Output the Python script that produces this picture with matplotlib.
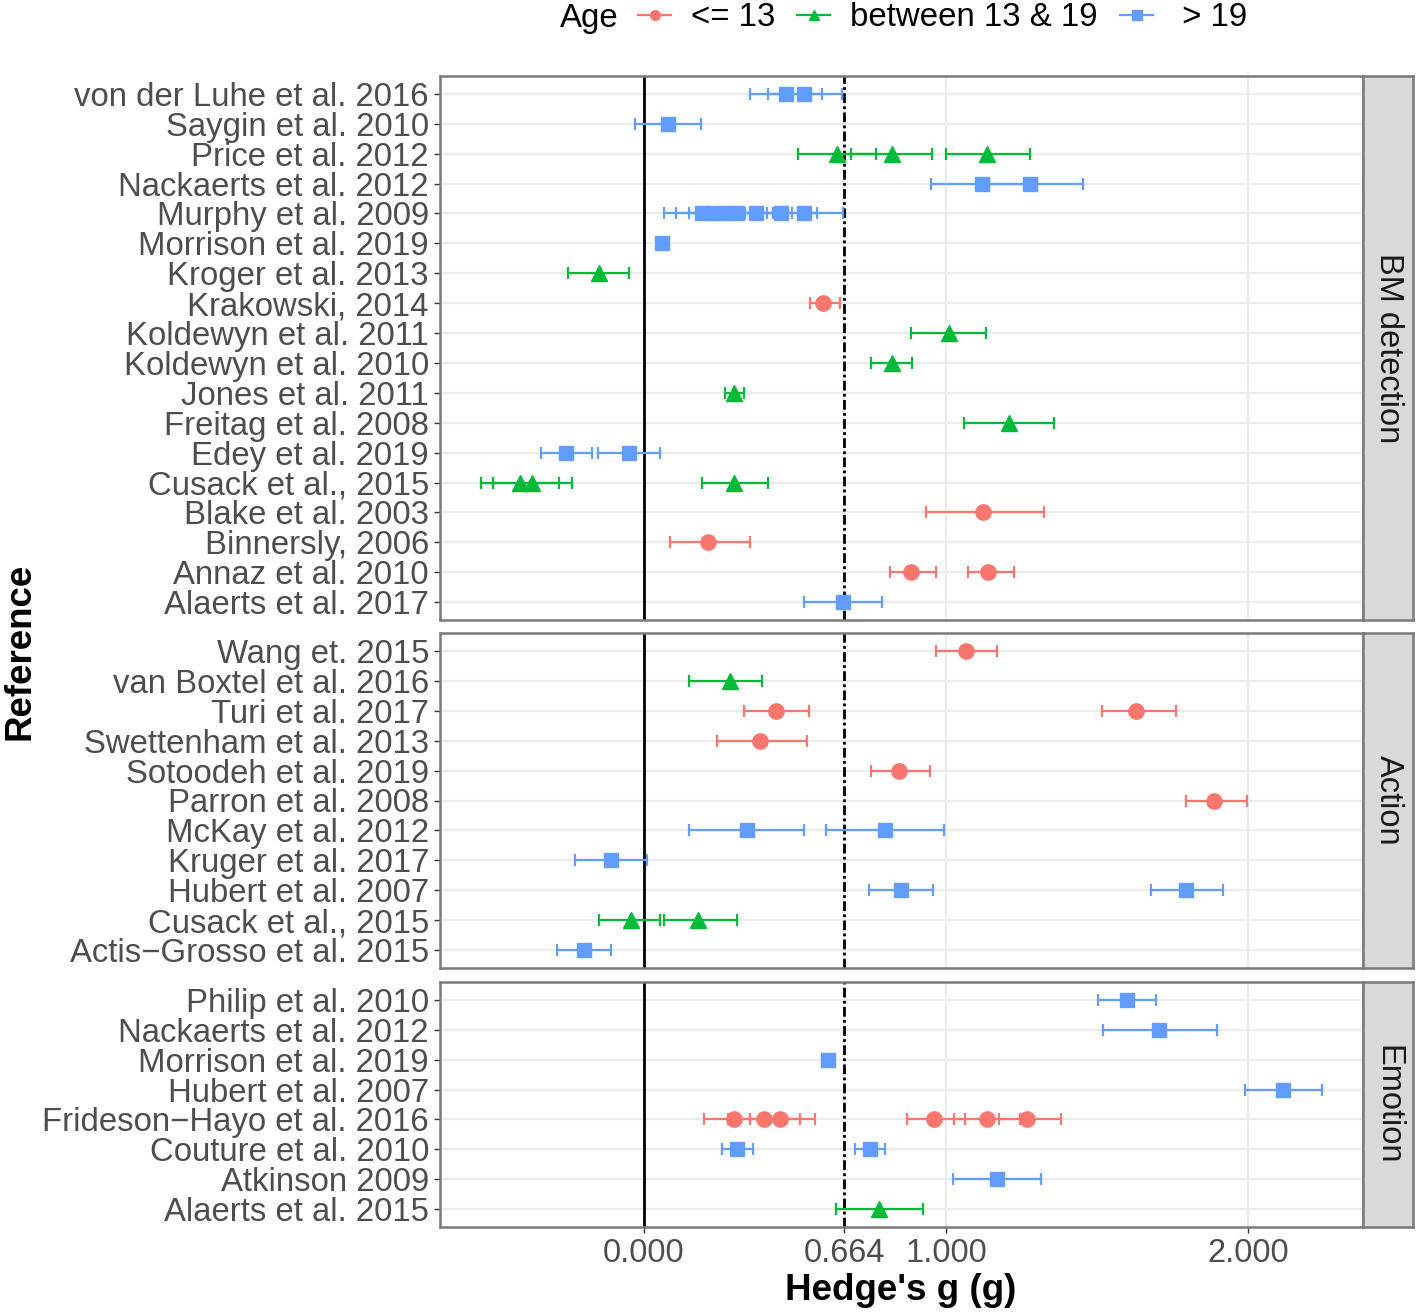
import numpy as np
import matplotlib
matplotlib.use("Agg")
import matplotlib.pyplot as plt
from matplotlib.lines import Line2D

plt.rcParams['font.family'] = ['Liberation Sans', 'DejaVu Sans']

# ---- data -------------------------------------------------------------
age_labels = ["<= 13", "between 13 & 19", " > 19"]
age_colors = ["#F8766D", "#00BA38", "#619CFF"]
age_markers = ["o", "^", "s"]
age_msize = [11, 12, 10]

x_breaks = [0.0, 0.664, 1.0, 2.0]
x_break_labels = ["0.000", "0.664", "1.000", "2.000"]

# BM detection
bm_rows = ["von der Luhe et al. 2016", "Saygin et al. 2010", "Price et al. 2012",
           "Nackaerts et al. 2012", "Murphy et al. 2009", "Morrison et al. 2019",
           "Kroger et al. 2013", "Krakowski, 2014", "Koldewyn et al. 2011",
           "Koldewyn et al. 2010", "Jones et al. 2011", "Freitag et al. 2008",
           "Edey et al. 2019", "Cusack et al., 2015", "Blake et al. 2003",
           "Binnersly, 2006", "Annaz et al. 2010", "Alaerts et al. 2017"]
bm_ref = [0, 0, 1, 2, 2, 2, 3, 3, 4, 4, 4, 4, 4, 4, 4, 5, 6, 7, 8, 9, 10, 11,
          12, 12, 13, 13, 13, 14, 15, 16, 16, 17]
bm_g = [0.470, 0.531, 0.081, 0.638, 0.820, 1.137, 1.118, 1.279,
        0.191, 0.230, 0.268, 0.307, 0.371, 0.454, 0.530, 0.061,
        -0.149, 0.592, 1.010, 0.820, 0.297, 1.209, -0.259, -0.050,
        -0.411, -0.369, 0.297, 1.124, 0.211, 0.883, 1.140, 0.660]
bm_lo = [0.351, 0.412, -0.028, 0.509, 0.685, 1.000, 0.950, 1.110,
         0.066, 0.108, 0.150, 0.187, 0.250, 0.336, 0.408, 0.050,
         -0.251, 0.550, 0.884, 0.752, 0.270, 1.061, -0.341, -0.152,
         -0.538, -0.499, 0.191, 0.933, 0.088, 0.815, 1.072, 0.531]
bm_hi = [0.590, 0.655, 0.189, 0.768, 0.954, 1.279, 1.286, 1.453,
         0.316, 0.352, 0.386, 0.427, 0.492, 0.572, 0.658, 0.072,
         -0.049, 0.649, 1.134, 0.889, 0.331, 1.359, -0.173, 0.055,
         -0.280, -0.238, 0.412, 1.325, 0.353, 0.966, 1.225, 0.790]
bm_age = [2, 2, 2, 1, 1, 1, 2, 2, 2, 2, 2, 2, 2, 2, 2, 2,
          1, 0, 1, 1, 1, 1, 2, 2, 1, 1, 1, 0, 0, 0, 0, 2]

# Action
act_rows = ["Wang et. 2015", "van Boxtel et al. 2016", "Turi et al. 2017",
            "Swettenham et al. 2013", "Sotoodeh et al. 2019", "Parron et al. 2008",
            "McKay et al. 2012", "Kruger et al. 2017", "Hubert et al. 2007",
            "Cusack et al., 2015", "Actis\u2212Grosso et al. 2015"]
act_ref = [0, 1, 2, 2, 3, 4, 5, 6, 6, 7, 8, 8, 9, 9, 10]
act_g = [1.065, 0.284, 0.436, 1.628, 0.384, 0.846, 1.888, 0.340, 0.800,
         -0.109, 0.850, 1.796, -0.041, 0.180, -0.199]
act_lo = [0.968, 0.150, 0.332, 1.518, 0.241, 0.751, 1.796, 0.150, 0.603,
          -0.228, 0.745, 1.678, -0.148, 0.066, -0.287]
act_hi = [1.169, 0.390, 0.547, 1.761, 0.539, 0.948, 1.997, 0.531, 0.995,
          0.011, 0.956, 1.918, 0.053, 0.310, -0.110]
act_age = [0, 1, 0, 0, 0, 0, 0, 2, 2, 2, 2, 2, 1, 1, 2]

# Emotion
emo_rows = ["Philip et al. 2010", "Nackaerts et al. 2012", "Morrison et al. 2019",
            "Hubert et al. 2007", "Frideson\u2212Hayo et al. 2016", "Couture et al. 2010",
            "Atkinson 2009", "Alaerts et al. 2015"]
emo_ref = [0, 1, 2, 3, 4, 4, 4, 4, 4, 4, 5, 5, 6, 7]
emo_g = [1.599, 1.707, 0.608, 2.116, 0.299, 0.397, 0.450, 0.960, 1.136, 1.268,
         0.310, 0.750, 1.169, 0.779]
emo_lo = [1.503, 1.521, 0.595, 1.989, 0.199, 0.280, 0.353, 0.871, 1.028, 1.177,
          0.259, 0.699, 1.024, 0.636]
emo_hi = [1.696, 1.897, 0.621, 2.245, 0.400, 0.517, 0.568, 1.063, 1.245, 1.382,
          0.362, 0.800, 1.315, 0.923]
emo_age = [2, 2, 2, 2, 0, 0, 0, 0, 0, 0, 2, 2, 2, 1]

# ---- figure -----------------------------------------------------------
W, H = 1418, 1314
fig = plt.figure(figsize=(W / 100, H / 100), dpi=100)


def box(x0, y0, x1, y1):
    # pixel box, y measured from top
    return [x0 / W, 1 - y1 / H, (x1 - x0) / W, (y1 - y0) / H]


panels = [
    ("BM detection", bm_rows, bm_ref, bm_g, bm_lo, bm_hi, bm_age, 76, 620),
    ("Action", act_rows, act_ref, act_g, act_lo, act_hi, act_age, 633, 968),
    ("Emotion", emo_rows, emo_ref, emo_g, emo_lo, emo_hi, emo_age, 982, 1227),
]

border = "#7a7a7a"
for k, (name, rows, ref, g, lo, hi, age, top, bot) in enumerate(panels):
    ax = fig.add_axes(box(440, top, 1363, bot))
    n = len(rows)
    ax.set_xlim(-0.675, 2.381)
    ax.set_ylim(n - 1 + 0.6, -0.6)
    ax.set_yticks(range(n))
    ax.set_yticklabels(rows, fontsize=23.7, color="#4D4D4D")
    ax.set_xticks(x_breaks)
    ax.set_axisbelow(True)
    ax.grid(True, color="#EBEBEB", lw=1.6)
    ax.tick_params(axis="y", length=4, width=1, color="#333333", pad=4)
    if k == len(panels) - 1:
        ax.set_xticklabels(x_break_labels, fontsize=23.5, color="#4D4D4D")
        ax.tick_params(axis="x", length=4, width=1, color="#333333", pad=4)
    else:
        ax.tick_params(axis="x", length=0, labelbottom=False)
    for s in ax.spines.values():
        s.set_color(border)
        s.set_linewidth(1.8)

    ax.axvline(0, color="black", lw=2, zorder=1.5)
    ax.axvline(0.664, color="black", lw=2, ls=(0, (3.5, 1.2, 1, 1.2)), zorder=1.5)

    g = np.array(g); lo = np.array(lo); hi = np.array(hi)
    ref = np.array(ref); age = np.array(age)
    for a in range(3):
        m = age == a
        if not m.any():
            continue
        ax.errorbar(g[m], ref[m], xerr=[g[m] - lo[m], hi[m] - g[m]], fmt="none",
                    ecolor=age_colors[a], elinewidth=1.6, capsize=4, capthick=1.6,
                    zorder=3)
    for a in range(3):
        m = age == a
        if not m.any():
            continue
        ax.plot(g[m], ref[m], ls="none", marker=age_markers[a], ms=age_msize[a],
                color=age_colors[a], mec=age_colors[a], zorder=4)

    sx = fig.add_axes(box(1363, top, 1413, bot))
    sx.set_facecolor("#D9D9D9")
    sx.set_xticks([]); sx.set_yticks([])
    for s in sx.spines.values():
        s.set_color(border)
        s.set_linewidth(1.8)
    sx.text(0.5, 0.5, name, rotation=-90, ha="center", va="center",
            fontsize=23.5, color="#1A1A1A", transform=sx.transAxes)

# axis titles
fig.text(901 / W, 1 - 1290 / H, "Hedge's g (g)", fontsize=26.5, weight="bold",
         ha="center", va="center")
fig.text(20 / W, 1 - 651 / H, "Reference", fontsize=26.5, weight="bold",
         rotation=90, ha="center", va="center")

# legend
fig.text(560 / W, 1 - 18 / H, "Age", fontsize=23.8, ha="left", va="center")
handles = [Line2D([], [], color=age_colors[a], lw=1.6, marker=age_markers[a],
                  ms=7) for a in range(3)]
fig.legend(handles, age_labels, loc="center left",
           bbox_to_anchor=(638 / W, 1 - 18 / H), ncol=3, frameon=False,
           fontsize=23.8, handlelength=1.0, handletextpad=0.6, columnspacing=0.67,
           borderpad=0, borderaxespad=0)

fig.savefig("out.png", dpi=100)
